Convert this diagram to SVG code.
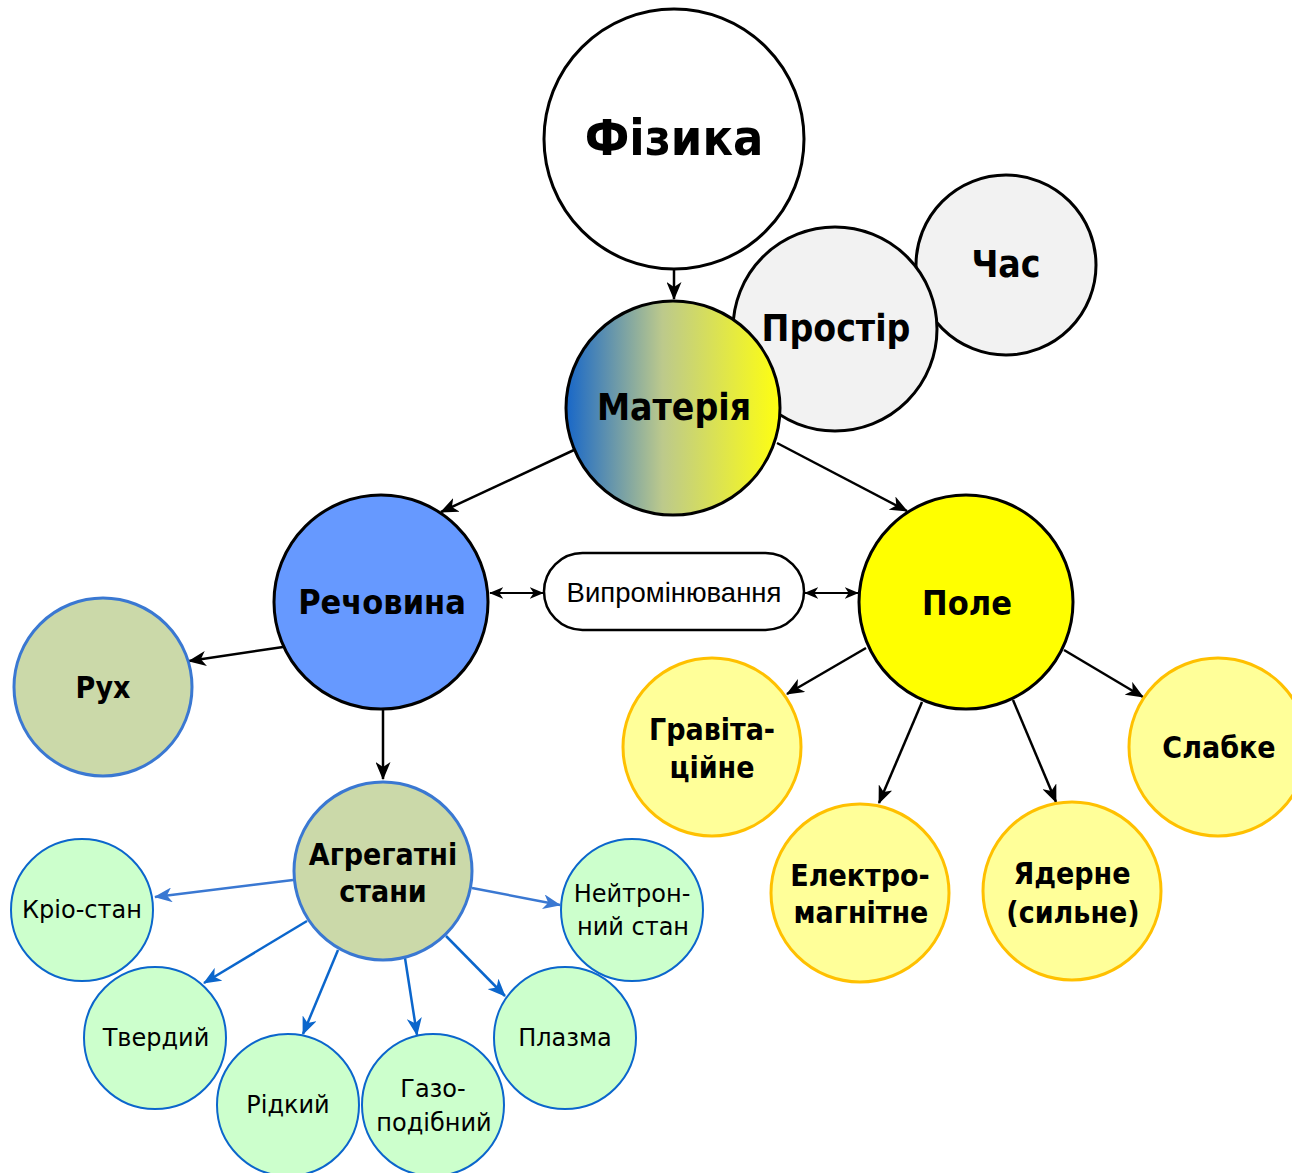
<svg xmlns="http://www.w3.org/2000/svg" width="1292" height="1173" viewBox="0 0 1292 1173">
<defs>
<linearGradient id="gMat" x1="0" y1="0" x2="1" y2="0">
<stop offset="0" stop-color="#1867c8"/>
<stop offset="0.45" stop-color="#bcc98c"/>
<stop offset="1" stop-color="#ffff10"/>
</linearGradient>
<marker id="aB" viewBox="0 0 18 15" refX="17" refY="7.5" markerWidth="18" markerHeight="15" orient="auto-start-reverse" markerUnits="userSpaceOnUse">
<path d="M0,0 L18,7.5 L0,15 L5,7.5 z" fill="#000"/>
</marker>
<marker id="aS" viewBox="0 0 18 15" refX="17" refY="7.5" markerWidth="14" markerHeight="12" orient="auto-start-reverse" markerUnits="userSpaceOnUse">
<path d="M0,0 L18,7.5 L0,15 L5,7.5 z" fill="#000"/>
</marker>
<marker id="aL" viewBox="0 0 18 15" refX="17" refY="7.5" markerWidth="18" markerHeight="15" orient="auto" markerUnits="userSpaceOnUse">
<path d="M0,0 L18,7.5 L0,15 L5,7.5 z" fill="#3a78d2"/>
</marker>
<marker id="aD" viewBox="0 0 18 15" refX="17" refY="7.5" markerWidth="18" markerHeight="15" orient="auto" markerUnits="userSpaceOnUse">
<path d="M0,0 L18,7.5 L0,15 L5,7.5 z" fill="#0b66cc"/>
</marker>
</defs>
<style>
.main{stroke:#000;stroke-width:3}
.grey{fill:#f2f2f2;stroke:#000;stroke-width:3}
.olive{fill:#cbd9a9;stroke:#3a78d2;stroke-width:3}
.mint{fill:#ccffcc;stroke:#0b66cc;stroke-width:2}
.yel{fill:#ffff99;stroke:#ffc000;stroke-width:3}
.b{font-family:"DejaVu Sans Condensed","DejaVu Sans",sans-serif;font-weight:bold;text-anchor:middle;dominant-baseline:central;fill:#000}
.r{font-family:"DejaVu Sans","DejaVu Sans Condensed",sans-serif;text-anchor:middle;dominant-baseline:central;fill:#000}
.k{stroke:#000;stroke-width:2.5;fill:none;marker-end:url(#aB)}
.kk{stroke:#000;stroke-width:2;fill:none;marker-end:url(#aS);marker-start:url(#aS)}
.lb{stroke:#3a78d2;stroke-width:2.5;fill:none;marker-end:url(#aL)}
.db{stroke:#0b66cc;stroke-width:2.5;fill:none;marker-end:url(#aD)}
</style>
<rect width="1292" height="1173" fill="#fff"/>
<g id="connectors">
<line class="k" x1="674" y1="269" x2="674" y2="299"/>
<line class="k" x1="574" y1="450" x2="441" y2="512"/>
<line class="k" x1="777" y1="443" x2="907" y2="511"/>
<line class="kk" x1="490" y1="593" x2="543" y2="593"/>
<line class="kk" x1="805" y1="593" x2="858" y2="593"/>
<line class="k" x1="283" y1="647" x2="189" y2="661"/>
<line class="k" x1="383" y1="710" x2="383" y2="779"/>
<line class="k" x1="866" y1="648" x2="787" y2="694"/>
<line class="k" x1="922" y1="702" x2="879" y2="803"/>
<line class="k" x1="1013" y1="700" x2="1056" y2="802"/>
<line class="k" x1="1064" y1="650" x2="1143" y2="697"/>
<line class="lb" x1="293" y1="880" x2="155" y2="897"/>
<line class="db" x1="307" y1="921" x2="204" y2="983"/>
<line class="db" x1="338" y1="950" x2="303" y2="1034"/>
<line class="db" x1="405" y1="958" x2="417" y2="1035"/>
<line class="db" x1="446" y1="936" x2="505" y2="996"/>
<line class="lb" x1="472" y1="888" x2="560" y2="905"/>
</g>
<g id="n-fizyka"><circle cx="674" cy="139" r="130" fill="#fff" class="main"/><text class="b" x="674" y="138" font-size="50">Фізика</text></g>
<g id="n-chas"><circle cx="1006" cy="265" r="90" class="grey"/><text class="b" x="1006" y="264" font-size="37">Час</text></g>
<g id="n-prostir"><circle cx="835" cy="329" r="102" class="grey"/><text class="b" x="836" y="328" font-size="37">Простір</text></g>
<g id="n-materiya"><circle cx="673" cy="408" r="107" fill="url(#gMat)" class="main"/><text class="b" x="674" y="407" font-size="37">Матерія</text></g>
<g id="n-rechovyna"><circle cx="381" cy="602" r="107" fill="#6699ff" class="main"/><text class="b" x="382" y="602" font-size="34">Речовина</text></g>
<g id="n-pole"><circle cx="966" cy="602" r="107" fill="#ffff00" class="main"/><text class="b" x="967" y="603" font-size="34">Поле</text></g>
<g id="n-vyprom"><rect x="544" y="553" width="260" height="77" rx="38.5" fill="#fff" stroke="#000" stroke-width="2.5"/><text x="674" y="592" font-size="27.5" font-family="Liberation Sans, Arial, sans-serif" text-anchor="middle" dominant-baseline="central">Випромінювання</text></g>
<g id="n-rukh"><circle cx="103" cy="687" r="89" class="olive"/><text class="b" x="103" y="687" font-size="30">Рух</text></g>
<g id="n-agr"><circle cx="383" cy="871" r="89" class="olive"/><text class="b" x="383" y="854" font-size="30">Агрегатні</text><text class="b" x="383" y="891" font-size="30">стани</text></g>
<g id="n-grav"><circle cx="712" cy="747" r="89" class="yel"/><text class="b" x="712" y="729" font-size="30">Гравіта-</text><text class="b" x="712" y="767" font-size="30">ційне</text></g>
<g id="n-elek"><circle cx="860" cy="893" r="89" class="yel"/><text class="b" x="860" y="875" font-size="30">Електро-</text><text class="b" x="861" y="912" font-size="30">магнітне</text></g>
<g id="n-yad"><circle cx="1072" cy="891" r="89" class="yel"/><text class="b" x="1072" y="873" font-size="30">Ядерне</text><text class="b" x="1073" y="912" font-size="30">(сильне)</text></g>
<g id="n-slab"><circle cx="1218" cy="747" r="89" class="yel"/><text class="b" x="1219" y="747" font-size="30">Слабке</text></g>
<g id="n-krio"><circle cx="82" cy="910" r="71" class="mint"/><text class="r" x="82" y="910" font-size="24">Кріо-стан</text></g>
<g id="n-tverd"><circle cx="155" cy="1038" r="71" class="mint"/><text class="r" x="156" y="1038" font-size="24">Твердий</text></g>
<g id="n-ridk"><circle cx="288" cy="1105" r="71" class="mint"/><text class="r" x="288" y="1105" font-size="24">Рідкий</text></g>
<g id="n-gaz"><circle cx="433" cy="1105" r="71" class="mint"/><text class="r" x="433" y="1089" font-size="24">Газо-</text><text class="r" x="434" y="1123" font-size="24">подібний</text></g>
<g id="n-plazma"><circle cx="565" cy="1038" r="71" class="mint"/><text class="r" x="565" y="1038" font-size="24">Плазма</text></g>
<g id="n-neitron"><circle cx="632" cy="910" r="71" class="mint"/><text class="r" x="632" y="894" font-size="24">Нейтрон-</text><text class="r" x="633" y="927" font-size="24">ний стан</text></g>
</svg>
